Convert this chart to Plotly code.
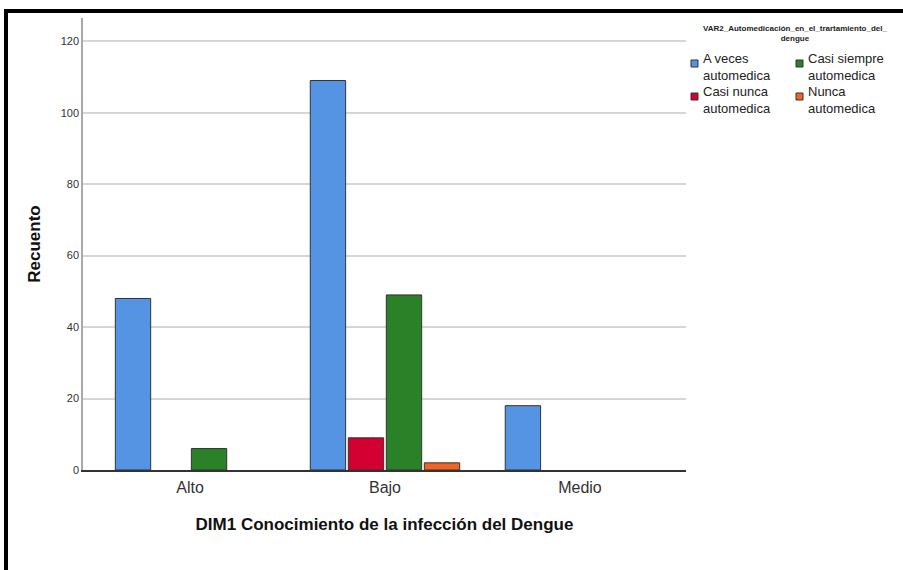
import plotly.graph_objects as go

categories = ["Alto", "Bajo", "Medio"]
a_veces = [48, 109, 18]
casi_nunca = [0, 9, 0]
casi_siempre = [6, 49, 0]
nunca = [0, 2, 0]

series = [
    ("A veces", "automedica", a_veces, "#5594E3"),
    ("Casi nunca", "automedica", casi_nunca, "#D50032"),
    ("Casi siempre", "automedica", casi_siempre, "#2A8128"),
    ("Nunca", "automedica", nunca, "#F26424"),
]
legend_title = ["VAR2_Automedicación_en_el_trartamiento_del_", "dengue"]

W, H = 903, 570
L, R, T, B = 83, 217, 18, 100
pw, ph = W - L - R, H - T - B


# pixel -> paper coordinates (for the frame and the hand-made legend)
def px(x):
    return (x - L) / pw


def py(y):
    return (H - B - y) / ph


fig = go.Figure()
for first, second, vals, color in series:
    fig.add_trace(go.Bar(
        name=f"{first} {second}",
        x=categories,
        y=[v if v > 0 else None for v in vals],
        marker=dict(color=color, line=dict(color="#333333", width=1)),
        showlegend=False,
    ))

shapes = [
    dict(type="line", xref="paper", yref="paper", x0=px(4), x1=px(903),
         y0=py(11), y1=py(11), line=dict(color="black", width=4)),
    dict(type="line", xref="paper", yref="paper", x0=px(6), x1=px(6),
         y0=py(9), y1=py(570), line=dict(color="black", width=4)),
]
annotations = []

# legend: two columns, two rows
col_x = [691, 796]
row_y = [60, 93]
for i, (first, second, vals, color) in enumerate(series):
    cx, ry = col_x[i // 2], row_y[i % 2]
    shapes.append(dict(type="rect", xref="paper", yref="paper",
                       x0=px(cx), x1=px(cx + 7), y0=py(ry), y1=py(ry + 7),
                       fillcolor=color, line=dict(color="#333333", width=1)))
    annotations.append(dict(text=f"{first}<br>{second}", xref="paper", yref="paper",
                            x=px(cx + 10), y=py(ry + 7), xanchor="left", yanchor="middle",
                            align="left", showarrow=False,
                            font=dict(size=13, color="#222222")))
annotations.append(dict(text="<b>" + "<br>".join(legend_title) + "</b>", xref="paper", yref="paper",
                        x=px(795), y=py(33), xanchor="center", yanchor="middle",
                        showarrow=False, font=dict(size=8, color="#222222")))

fig.update_layout(
    width=W, height=H,
    margin=dict(l=L, r=R, t=T, b=B, autoexpand=False),
    paper_bgcolor="white",
    plot_bgcolor="white",
    barmode="group",
    bargap=0.22,
    bargroupgap=0.07,
    showlegend=False,
    font=dict(family="Liberation Sans, Arial, sans-serif", color="#222222"),
    xaxis=dict(
        range=[-0.549, 2.544],
        showline=True, linecolor="#333333", linewidth=1.5,
        ticks="", tickfont=dict(size=16, color="#333333"), ticklabelstandoff=2,
        title=dict(text="<b>DIM1 Conocimiento de la infección del Dengue</b>",
                   font=dict(size=17, color="#111111"), standoff=23),
    ),
    yaxis=dict(
        range=[0, 126.5],
        tickvals=[0, 20, 40, 60, 80, 100, 120],
        showline=True, linecolor="#A8A8A8", linewidth=1.5,
        showgrid=True, gridcolor="#D6D6D6", gridwidth=1.5,
        zeroline=False,
        ticks="", tickfont=dict(size=11, color="#333333"),
        title=dict(text="<b>Recuento</b>", font=dict(size=17, color="#111111"), standoff=16),
    ),
    shapes=shapes,
    annotations=annotations,
)

fig.write_html("out.html", config={"displayModeBar": False},
               post_script="document.body.style.margin = '0';")
